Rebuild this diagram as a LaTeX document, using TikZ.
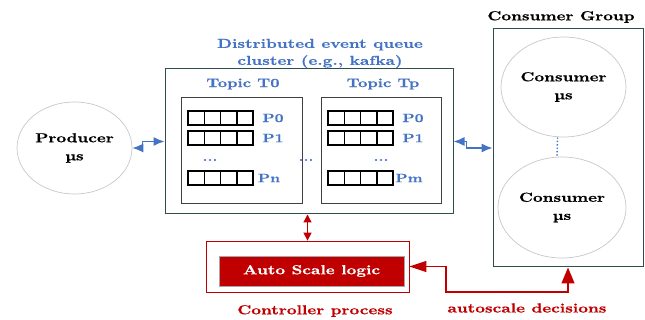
\documentclass[tikz,border=0pt]{standalone}
\usepackage{fontspec}
\newfontfamily\dfont{lmroman10-bold.otf}[FakeStretch=1.3,FakeBold=0.6]
\usetikzlibrary{arrows.meta,calc,shapes.geometric}
\definecolor{qblue}{HTML}{4472C4}
\definecolor{qred}{HTML}{C00000}
\definecolor{qteal}{HTML}{2F4F4F}
\tikzset{
  txt/.style={font=\dfont\fontsize{13}{17}\selectfont, inner sep=0pt, align=center},
  btxt/.style={txt, text=qblue},
  ptxt/.style={font=\dfont\fontsize{12}{14}\selectfont, inner sep=0pt, text=qblue},
  rtxt/.style={txt, text=qred},
  svc/.style={ellipse, draw=black!22, line width=0.7pt, txt},
  outer/.style={rectangle, draw=qteal, line width=1pt},
  topicbox/.style={rectangle, draw=black!75, line width=1pt, minimum width=121pt, minimum height=106pt},
  cell/.style={rectangle, draw=black, line width=1.5pt, minimum width=16.25pt, minimum height=14pt, inner sep=0pt},
  barrow/.style={draw=qblue, line width=1.3pt, {Latex[length=11pt,width=9pt]}-{Latex[length=11pt,width=9pt]}},
  rarrow/.style={draw=qred, line width=1.3pt, {Triangle[length=8pt,width=8pt]}-{Triangle[length=8pt,width=8pt]}},
  bigarrow/.style={draw=qred, line width=1.3pt, {Triangle[length=17pt,width=11pt]}-{Triangle[length=16pt,width=13pt]}},
}
\newcommand{\partrow}[3]{%
  \foreach \k in {0,1,2,3}{
    \node[cell] (#3-\k) at ({#1+8.125+16.25*\k},#2) {};
  }
}
\begin{document}
\begin{tikzpicture}[x=1pt,y=-1pt]
\useasboundingbox (0,0) rectangle (645,320);
% producer
\node[svc, minimum width=115pt, minimum height=92pt] (producer) at (74.5,148) {Producer\\[1pt]µs};
% cluster
\node[outer, minimum width=288pt, minimum height=145pt] (cluster) at (309,141.5) {};
\node[btxt] (clabel) at (320,53.5) {Distributed event queue\\cluster (e.g., kafka)};
% topics
\node[topicbox] (t0) at (241.5,151) {};
\node[topicbox, minimum width=120pt] (tp) at (381,151) {};
\node[btxt, font=\dfont\fontsize{12.5}{14}\selectfont] (t0l) at (243,84) {Topic T0};
\node[btxt, font=\dfont\fontsize{12.5}{14}\selectfont] (tpl) at (383,84) {Topic Tp};
% partitions T0
\partrow{188}{118}{a0}
\partrow{188}{138}{a1}
\partrow{188}{178}{an}
\node[ptxt] (a0l) at (273,118) {P0};
\node[ptxt] (a1l) at (273,138) {P1};
\node[ptxt] (adots) at (210,160) {...};
\node[ptxt] (anl) at (269,178) {Pn};
% partitions Tp
\partrow{328}{118}{b0}
\partrow{328}{138}{b1}
\partrow{328}{178}{bn}
\node[ptxt] (b0l) at (413,118) {P0};
\node[ptxt] (b1l) at (413,138) {P1};
\node[ptxt] (bdots) at (381,160) {...};
\node[ptxt] (bnl) at (409,178) {Pm};
\node[ptxt] (mdots) at (306,160) {...};
% consumer group
\node[outer, minimum width=150pt, minimum height=238pt] (cg) at (568,148) {};
\node[txt] (cgl) at (561,17) {Consumer Group};
\node[svc, minimum width=125pt, minimum height=100pt] (c1) at (563.5,87) {Consumer\\[1pt]µs};
\node[svc, minimum width=128pt, minimum height=101pt] (c2) at (562,207.5) {Consumer\\[1pt]µs};
\draw[qblue, dotted, line width=1.4pt] ([xshift=-6pt]c1.south) -- ([xshift=-5pt]c2.north);
% controller
\node[rectangle, draw=qred, line width=0.8pt, minimum width=203pt, minimum height=51pt] (ctrl) at (307.5,266.5) {};
\node[rectangle, fill=qred, draw=black!35, line width=0.8pt, minimum width=185pt, minimum height=30pt, txt, text=white] (logic) at (311.5,271) {Auto Scale logic};
\node[rtxt] (ctrll) at (315,311) {Controller process};
\node[rtxt] (asl) at (527,308) {autoscale decisions};
% connectors
\draw[barrow] (producer.east) -- ++(10,0) |- (cluster.west);
\draw[barrow] (cluster.east) -- ++(13,0) |- (cg.west);
\draw[rarrow] (ctrl.north) -- (ctrl.north |- cluster.south);
\coordinate (bend) at (446,292);
\draw[bigarrow] (ctrl.east) -| (bend) -| (cg.south);
\end{tikzpicture}
\end{document}
